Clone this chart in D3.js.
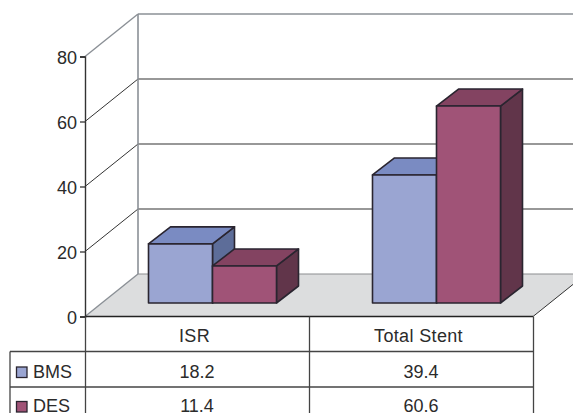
<!DOCTYPE html>
<html>
<head>
<meta charset="utf-8">
<script src="https://cdn.jsdelivr.net/npm/d3@7"></script>
<style>
  html, body { margin: 0; padding: 0; background: #fff; overflow: hidden; }
  text { font-family: "Liberation Sans", Arial, sans-serif; fill: #2b2b2b; }
  .tick text { font-size: 18px; }
</style>
</head>
<body>
<div id="chart"></div>
<script>
// chart values
let categories = ["ISR", "Total Stent"];
let seriesNames = ["BMS", "DES"];
let bms = [18.2, 39.4];
let des = [11.4, 60.6];
let tickValues = [0, 20, 40, 60, 80];

let frontColors = ["#9aa5d2", "#a05377"];
let topColors = ["#7a8bc2", "#834361"];
let sideColors = ["#5d6d99", "#61354a"];

let width = 573;
let height = 413;

let svg = d3.select("#chart")
  .append("svg")
  .attr("width", width).attr("height", height)
  .style("display", "block");

let yScale = d3.scaleLinear().domain([0, 80]).range([316.5, 56.5]);
let xScale = d3.scaleBand().domain(categories).range([85, 533]);
let seriesScale = d3.scaleBand().domain(seriesNames).range([0, 128]);

// depth of the floor and of the bars
let wallDx = 53, wallDy = -42.5;
let barDx = 22, barDy = -17;
let barLift = 13.5;
let rowY = [316.5, 351.5, 387];

let darkLine = "#333";
let wallLine = "#8b9096";

// floor
svg.append("polygon")
  .attr("points", [[85, yScale(0)], [533, yScale(0)], [533 + wallDx, yScale(0) + wallDy], [85 + wallDx, yScale(0) + wallDy]].join(" "))
  .attr("fill", "#dcddde");
svg.append("path")
  .attr("d", `M533,${yScale(0)}L${533 + wallDx},${yScale(0) + wallDy}`)
  .attr("stroke", darkLine).attr("fill", "none");

// gridlines, back wall and the side going to the axis
tickValues.forEach(v => {
  let y = yScale(v);
  let isTop = v === 80;
  let isFloor = v === 0;
  svg.append("path")
    .attr("d", `M85,${y}L${85 + wallDx},${y + wallDy}`)
    .attr("fill", "none")
    .attr("stroke", isTop || isFloor ? wallLine : darkLine)
    .attr("stroke-width", isTop || isFloor ? 1.4 : 1);
  svg.append("line")
    .attr("x1", 85 + wallDx).attr("x2", width)
    .attr("y1", y + wallDy).attr("y2", y + wallDy)
    .attr("stroke", isTop ? wallLine : isFloor ? "#8b8d90" : darkLine)
    .attr("stroke-width", isTop ? 1.7 : 1.2);
});
svg.append("line")
  .attr("x1", 85 + wallDx).attr("x2", 85 + wallDx)
  .attr("y1", yScale(80) + wallDy).attr("y2", yScale(0) + wallDy)
  .attr("stroke", wallLine).attr("stroke-width", 1.6);

// bars, drawn series by series so the second covers the first
let barData = [];
categories.forEach((c, i) => {
  barData.push({ cat: c, name: "BMS", idx: 0, value: bms[i] });
  barData.push({ cat: c, name: "DES", idx: 1, value: des[i] });
});

let bars = svg.append("g").selectAll("g")
  .data(barData)
  .enter()
  .append("g")
  .attr("stroke", "#2a2530")
  .attr("stroke-width", 1.6)
  .attr("stroke-linejoin", "round");

function barBox(d) {
  let x0 = xScale(d.cat) + xScale.bandwidth() / 2 - 48.5 + seriesScale(d.name);
  let x1 = x0 + seriesScale.bandwidth();
  let y0 = yScale(0) - barLift;
  let y1 = y0 - (yScale(0) - yScale(d.value));
  return { x0, x1, y0, y1 };
}

bars.append("polygon")
  .attr("fill", d => sideColors[d.idx])
  .attr("points", d => {
    let b = barBox(d);
    return [[b.x1, b.y0], [b.x1 + barDx, b.y0 + barDy], [b.x1 + barDx, b.y1 + barDy], [b.x1, b.y1]].join(" ");
  });
bars.append("polygon")
  .attr("fill", d => topColors[d.idx])
  .attr("points", d => {
    let b = barBox(d);
    return [[b.x0, b.y1], [b.x1, b.y1], [b.x1 + barDx, b.y1 + barDy], [b.x0 + barDx, b.y1 + barDy]].join(" ");
  });
bars.append("rect")
  .attr("fill", d => frontColors[d.idx])
  .attr("x", d => barBox(d).x0)
  .attr("y", d => barBox(d).y1)
  .attr("width", seriesScale.bandwidth())
  .attr("height", d => barBox(d).y0 - barBox(d).y1);

// y axis
let yAxis = svg.append("g")
  .attr("transform", "translate(85, 0)")
  .call(d3.axisLeft(yScale).tickValues(tickValues).tickSize(5).tickPadding(3));
yAxis.selectAll("line").attr("stroke", "#222").attr("stroke-width", 1.2);
yAxis.select(".domain").attr("stroke", "#333").attr("stroke-width", 1.4);
yAxis.selectAll("text").attr("dy", "0.4em");

// data table lines
let table = svg.append("g").attr("stroke", "#444").attr("stroke-width", 1.3);
table.append("line").attr("x1", 85).attr("x2", 533).attr("y1", rowY[0]).attr("y2", rowY[0]).attr("stroke", "#222");
table.append("line").attr("x1", 10).attr("x2", 533).attr("y1", rowY[1]).attr("y2", rowY[1]);
table.append("line").attr("x1", 10).attr("x2", 533).attr("y1", rowY[2]).attr("y2", rowY[2]);
[85, xScale("Total Stent"), 533].forEach(x => {
  table.append("line").attr("x1", x + 0.5).attr("x2", x + 0.5).attr("y1", rowY[0]).attr("y2", height);
});
table.append("line").attr("x1", 10).attr("x2", 10).attr("y1", rowY[1]).attr("y2", height);

// table text
let catCenter = c => xScale(c) + xScale.bandwidth() / 2;
svg.selectAll("text.cat")
  .data(categories)
  .enter()
  .append("text")
  .attr("class", "cat")
  .attr("x", d => catCenter(d) - 2.5)
  .attr("y", 341.5)
  .attr("text-anchor", "middle")
  .attr("font-size", 18)
  .attr("letter-spacing", 0.35)
  .text(d => d);

[bms, des].forEach((vals, r) => {
  let baseline = [378, 412][r];
  svg.selectAll("text.row" + r)
    .data(vals)
    .enter()
    .append("text")
    .attr("class", "row" + r)
    .attr("x", (d, i) => catCenter(categories[i]))
    .attr("y", baseline)
    .attr("text-anchor", "middle")
    .attr("font-size", 18)
    .text(d => d.toFixed(1));

  svg.append("rect")
    .attr("x", 16.5).attr("y", [367, 401.5][r])
    .attr("width", 10.5).attr("height", 10.5)
    .attr("fill", frontColors[r])
    .attr("stroke", "#2a2530").attr("stroke-width", 1.3);
  svg.append("text")
    .attr("x", 33).attr("y", baseline)
    .attr("font-size", 18)
    .text(seriesNames[r]);
});
</script>
</body>
</html>
